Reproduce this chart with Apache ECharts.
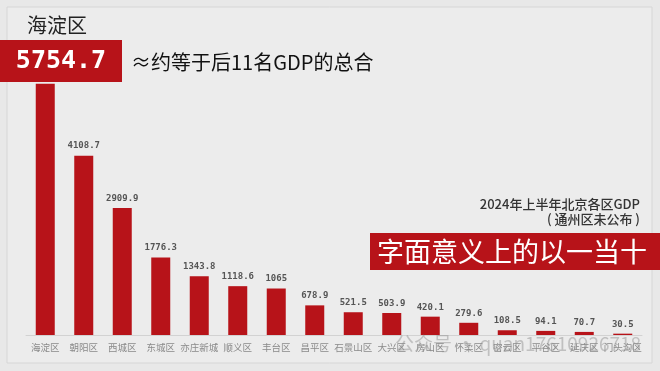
<!DOCTYPE html>
<html><head><meta charset="utf-8">
<script src="https://cdn.jsdelivr.net/npm/echarts@6/dist/echarts.min.js"></script>
<style>html,body{margin:0;padding:0;background:#e8e8e8}#c{width:660px;height:371px}</style>
</head><body><div id="c"></div>
<script>
const categories = ['海淀区','朝阳区','西城区','东城区','亦庄新城','顺义区','丰台区','昌平区','石景山区','大兴区','房山区','怀柔区','密云区','平谷区','延庆区','门头沟区'];
const gdpValues = [5754.7, 4108.7, 2909.9, 1776.3, 1343.8, 1118.6, 1065, 678.9, 521.5, 503.9, 420.1, 279.6, 108.5, 94.1, 70.7, 30.5];
const headline = '海淀区';
const bigNumber = '5754.7';
const bigNote = '≈约等于后11名GDP的总合';
const subTitle1 = '2024年上半年北京各区GDP';
const subTitle2 = '( 通州区未公布 )';
const slogan = '字面意义上的以一当十';
const watermark = '公众号 · quan17610926718';

const chart = echarts.init(document.getElementById('c'));
const cjk = '"Noto Sans CJK SC", "Noto Sans", sans-serif';
chart.setOption({
  backgroundColor: '#e8e8e8',
  animation: false,
  grid: {left: 26, right: 18, top: 60, bottom: 36},
  xAxis: {
    type: 'category', data: categories,
    axisLine: {lineStyle: {color: '#d2d2d2'}},
    axisTick: {show: false},
    axisLabel: {color: '#8a8a8a', fontSize: 9.5, fontFamily: cjk, interval: 0, margin: 8}
  },
  yAxis: {type: 'value', min: 0, max: 6300, show: false, splitLine: {show: false}},
  series: [{
    type: 'bar', data: gdpValues, barWidth: 19,
    itemStyle: {color: '#b71319'},
    label: {show: true, position: 'top', distance: 5, color: '#555', fontSize: 9,
      fontWeight: 'bold', fontFamily: '"DejaVu Sans Mono", monospace'}
  }],
  graphic: [
    {type: 'rect', z: -10, shape: {x: 7, y: 7, width: 645, height: 356},
      style: {fill: '#ececec', stroke: '#d6d6d6', lineWidth: 1}},
    {type: 'text', left: 27, top: 15, style: {text: headline, fill: '#222', font: '20px ' + cjk}},
    {type: 'rect', shape: {x: 0, y: 40, width: 122, height: 42}, style: {fill: '#b71319'}, z: 10},
    {type: 'text', z: 11, x: 61, y: 61, style: {text: bigNumber, fill: '#fff', align: 'center', verticalAlign: 'middle',
      font: 'bold 25px "DejaVu Sans Mono", monospace'}},
    {type: 'text', z: 11, x: 131, y: 62, style: {text: bigNote, fill: '#111', verticalAlign: 'middle', font: '20px ' + cjk}},
    {type: 'text', z: 11, x: 640, y: 204, style: {text: subTitle1, fill: '#333', align: 'right', verticalAlign: 'middle', font: '500 13px ' + cjk}},
    {type: 'text', z: 11, x: 640, y: 219, style: {text: subTitle2, fill: '#333', align: 'right', verticalAlign: 'middle', font: '500 13px ' + cjk}},
    {type: 'rect', z: 10, shape: {x: 370, y: 233, width: 290, height: 37}, style: {fill: '#b71319'}},
    {type: 'text', z: 11, x: 512, y: 252, style: {text: slogan, fill: '#fff', align: 'center', verticalAlign: 'middle', font: '27px ' + cjk}},
    {type: 'text', z: 20, x: 395, y: 344, style: {text: watermark, fill: 'rgba(140,140,140,0.45)', verticalAlign: 'middle', font: '19px ' + cjk}}
  ]
});
</script></body></html>
